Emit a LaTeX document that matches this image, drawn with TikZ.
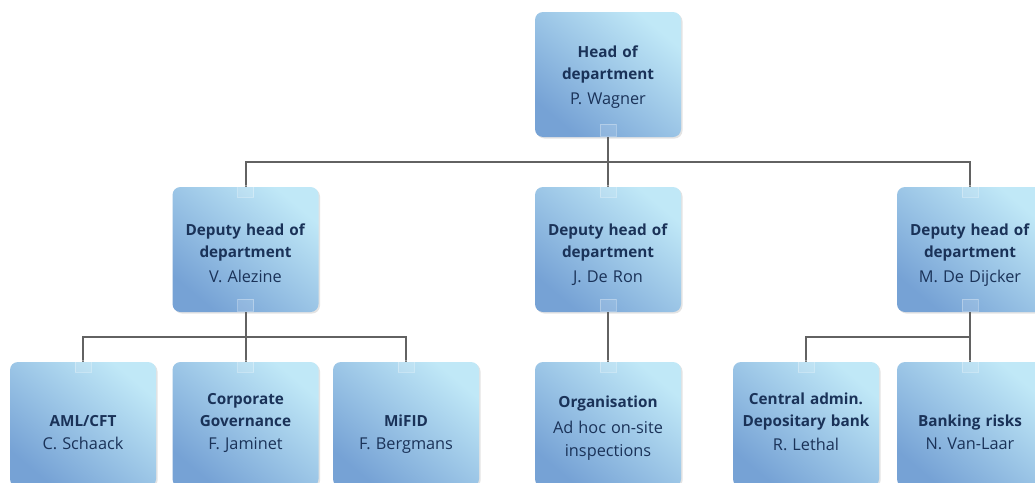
\documentclass[tikz,border=0pt]{standalone}
\usepackage{fontspec}
\setmainfont{Open Sans}
\usetikzlibrary{shadows}
\definecolor{boxlight}{RGB}{192,232,247}
\definecolor{boxdark}{RGB}{118,162,213}
\definecolor{txt}{RGB}{26,50,88}
\definecolor{conn}{RGB}{98,98,98}
\newcommand\ttl[1]{\textbf{#1}}
\newcommand\nme[1]{{\fontsize{16.3}{22}\selectfont #1}}
\begin{document}
\begin{tikzpicture}[x=1pt,y=-1pt,
  orgbox/.style={rectangle, rounded corners=8pt, minimum width=146pt, minimum height=125pt,
    text width=144pt, align=center, inner sep=0pt, text height=0pt, text depth=#1,
    top color=boxlight, bottom color=boxdark, shading angle=-40,
    drop shadow={shadow xshift=1.5pt, shadow yshift=-1.5pt, opacity=0.22},
    font=\fontsize{15.3}{22}\selectfont, text=txt},
  orgbox/.default=30pt,
  link/.style={draw=conn, line width=2pt},
  tabtop/.style={rectangle, minimum width=16pt, minimum height=12pt, inner sep=0pt,
    anchor=north, yshift=2pt, fill=white, fill opacity=0.12, draw=white, draw opacity=0.3, line width=0.5pt},
  tabbot/.style={tabtop, anchor=south, yshift=-1pt},
]
\useasboundingbox (0,0) rectangle (1035,482);
\fill[white] (0,0) rectangle (1035,482);

\node[orgbox=35pt] (head) at (608,74.5) {\ttl{Head of}\\\ttl{department}\\[3pt]\nme{P. Wagner}};

\node[orgbox=29pt] (dep1) at (245.5,249.5) {\ttl{Deputy head of}\\\ttl{department}\\[3pt]\nme{V. Alezine}};
\node[orgbox=29pt] (dep2) at (608,249.5) {\ttl{Deputy head of}\\\ttl{department}\\[3pt]\nme{J. De Ron}};
\node[orgbox=29pt] (dep3) at (970,249.5) {\ttl{Deputy head of}\\\ttl{department}\\[3pt]\nme{M. De Dijcker}};

\node[orgbox=0pt, text height=4pt] (aml) at (83,424.5) {\ttl{AML/CFT}\\[1pt]\nme{C. Schaack}};
\node[orgbox=40pt] (corp) at (245.5,424.5) {\ttl{Corporate}\\\ttl{Governance}\\[1pt]\nme{F. Jaminet}};
\node[orgbox=0pt, text height=4pt] (mifid) at (406,424.5) {\ttl{MiFID}\\[1pt]\nme{F. Bergmans}};
\node[orgbox=35pt] (org) at (608,424.5) {\ttl{Organisation}\\[4pt]\nme{Ad hoc on-site}\\[1pt]\nme{inspections}};
\node[orgbox=40pt] (central) at (806,424.5) {\ttl{Central admin.}\\\ttl{Depositary bank}\\[2pt]\nme{R. Lethal}};
\node[orgbox=0pt, text height=4pt] (bank) at (970,424.5) {\ttl{Banking risks}\\[1pt]\nme{N. Van-Laar}};

\draw[link] (head.south) -- (dep2.north);
\draw[link] (dep1.north) -- ++(0,-25) -| (dep3.north);
\draw[link] (dep1.south) -- (corp.north);
\draw[link] (aml.north) -- ++(0,-25) -| (mifid.north);
\draw[link] (dep2.south) -- (org.north);
\draw[link] (dep3.south) -- (bank.north);
\draw[link] (central.north) -- ++(0,-25) -| (bank.north);

\node[tabbot] (t1) at (head.south) {};
\node[tabtop] (t2) at (dep1.north) {};
\node[tabtop] (t3) at (dep2.north) {};
\node[tabtop] (t4) at (dep3.north) {};
\node[tabbot] (t5) at (dep1.south) {};
\node[tabbot] (t6) at (dep2.south) {};
\node[tabbot] (t7) at (dep3.south) {};
\node[tabtop] (t8) at (aml.north) {};
\node[tabtop] (t9) at (corp.north) {};
\node[tabtop] (t10) at (mifid.north) {};
\node[tabtop] (t11) at (org.north) {};
\node[tabtop] (t12) at (central.north) {};
\node[tabtop] (t13) at (bank.north) {};
\end{tikzpicture}
\end{document}
